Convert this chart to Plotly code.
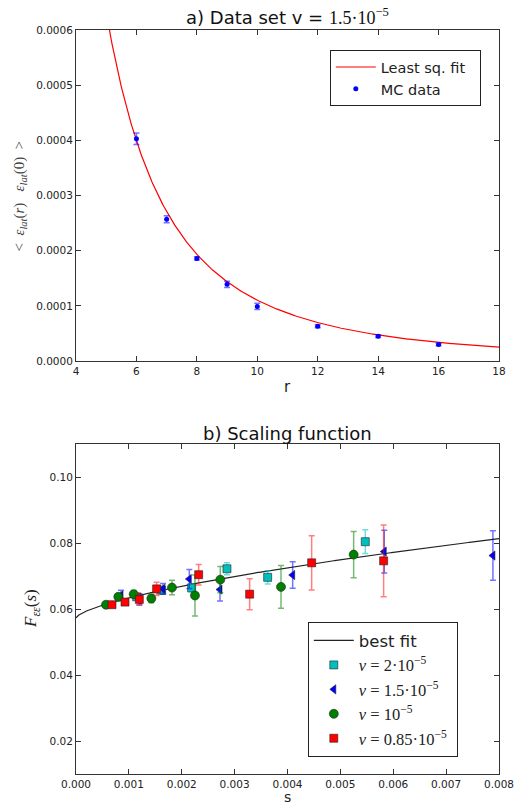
import numpy as np
import plotly.graph_objects as go

# ---------------- Panel a data ----------------
r_vals = [6, 7, 8, 9, 10, 12, 14, 16]
corr_vals = [0.000403, 0.000257, 0.000186, 0.000139, 0.000099, 0.000063, 0.000045, 0.000030]
corr_err = [0.0000105, 0.0000064, 0.0000028, 0.0000057, 0.0000055, 0.0000027, 0.0000025, 0.0000022]
# least squares fit  A * r^(-p)
FIT_A = 0.0365
FIT_P = 2.52

# ---------------- Panel b data ----------------
s_v2 = [0.001147, 0.00162, 0.002187, 0.002855, 0.003625, 0.005471]
F_v2 = [0.0637, 0.0657, 0.0664, 0.0722, 0.0696, 0.0804]
e_v2 = [0.0008, 0.0011, 0.0012, 0.0018, 0.0020, 0.0036]

s_v15 = [0.000851, 0.001198, 0.001646, 0.002143, 0.002723, 0.004098, 0.00583, 0.007885]
F_v15 = [0.0641, 0.0629, 0.0661, 0.0691, 0.0659, 0.0703, 0.0774, 0.0762]
e_v15 = [0.0016, 0.0017, 0.0016, 0.0029, 0.0035, 0.0040, 0.0065, 0.0075]

s_v1 = [0.000567, 0.0008, 0.001091, 0.001425, 0.001815, 0.00225, 0.002729, 0.003877, 0.005251]
F_v1 = [0.0613, 0.0637, 0.0645, 0.0632, 0.0665, 0.0641, 0.0689, 0.0667, 0.0765]
e_v1 = [0.0005, 0.0008, 0.0011, 0.0013, 0.0022, 0.0062, 0.0040, 0.0065, 0.0070]

s_v085 = [0.000681, 0.000927, 0.001198, 0.001525, 0.00232, 0.003284, 0.004457, 0.005818]
F_v085 = [0.0613, 0.0621, 0.0629, 0.0661, 0.0704, 0.0645, 0.0740, 0.0746]
e_v085 = [0.0005, 0.0007, 0.0017, 0.0020, 0.0031, 0.0047, 0.0082, 0.0109]

# best fit  a + b * s^c
BF_A = 0.0573
BF_B = 0.5815
BF_C = 0.66

s_ticks = [0.000, 0.001, 0.002, 0.003, 0.004, 0.005, 0.006, 0.007, 0.008]
s_tick_labels = ["0.000", "0.001", "0.002", "0.003", "0.004", "0.005", "0.006", "0.007", "0.008"]

# ---------------- build figure ----------------
fig = go.Figure()

r_fit = np.linspace(4.9, 18, 400)
fig.add_trace(go.Scatter(x=r_fit, y=FIT_A * r_fit ** (-FIT_P), mode="lines",
                         line=dict(color="#ff0000", width=1.2), name="Least sq. fit&nbsp;&nbsp;",
                         xaxis="x", yaxis="y", legend="legend"))
fig.add_trace(go.Scatter(x=r_vals, y=corr_vals, mode="markers",
                         marker=dict(color="#0000ff", size=5),
                         error_y=dict(type="data", array=corr_err, color="rgba(0,0,255,0.55)",
                                      thickness=1.5, width=3),
                         name="MC data", xaxis="x", yaxis="y", legend="legend"))

s_fit = np.linspace(0, 0.008, 500)
fig.add_trace(go.Scatter(x=s_fit, y=BF_A + BF_B * s_fit ** BF_C, mode="lines",
                         line=dict(color="#222222", width=1.2), name="best fit",
                         xaxis="x2", yaxis="y2", legend="legend2"))

serif = "Liberation Serif"
series = [
    (s_v2, F_v2, e_v2, "#00bfbf", "rgba(0,191,191,0.55)", "square", 8,
     "<span style='font-family:Liberation Serif'><i>v</i> = 2·10<sup>−5</sup></span>"),
    (s_v15, F_v15, e_v15, "#0000ff", "rgba(0,0,255,0.55)", "triangle-left", 8,
     "<span style='font-family:Liberation Serif'><i>v</i> = 1.5·10<sup>−5</sup></span>"),
    (s_v1, F_v1, e_v1, "#008000", "rgba(0,128,0,0.55)", "circle", 9,
     "<span style='font-family:Liberation Serif'><i>v</i> = 10<sup>−5</sup></span>"),
    (s_v085, F_v085, e_v085, "#ff0000", "rgba(255,0,0,0.5)", "square", 8,
     "<span style='font-family:Liberation Serif'><i>v</i> = 0.85·10<sup>−5</sup>&nbsp;</span>"),
]
for sx, fy, ey, col, ecol, sym, size, nm in series:
    fig.add_trace(go.Scatter(x=sx, y=fy, mode="markers",
                             marker=dict(color=col, symbol=sym, size=size,
                                         line=dict(color="#222222", width=0.6)),
                             error_y=dict(type="data", array=ey, color=ecol,
                                          thickness=1.5, width=3),
                             name=nm, xaxis="x2", yaxis="y2", legend="legend2"))

axis_common = dict(showline=True, linecolor="#333333", linewidth=1, mirror="ticks",
                   ticks="inside", ticklen=5, tickcolor="#333333", showgrid=False,
                   zeroline=False, automargin=False, ticklabeloverflow="allow",
                   tickfont=dict(family="DejaVu Sans", size=10.5, color="#222222"))

def ann(text, x, y, size, family="DejaVu Sans", angle=0, color="#111", yanchor="middle"):
    return dict(text=text, xref="paper", yref="paper", x=x, y=y, xanchor="center",
                yanchor=yanchor, showarrow=False, textangle=angle, borderpad=0,
                font=dict(family=family, size=size, color=color))

fig.update_layout(
    width=514, height=806,
    margin=dict(l=76, r=15, t=30, b=32),
    plot_bgcolor="white", paper_bgcolor="white",
    showlegend=True,
    xaxis=dict(domain=[0, 1], anchor="y", range=[4, 18], dtick=2, **axis_common),
    yaxis=dict(domain=[0.5551, 1], anchor="x", range=[0, 0.0006], dtick=0.0001,
               tickformat=".4f", **axis_common),
    xaxis2=dict(domain=[0, 1], anchor="y2", range=[0, 0.008], tickmode="array",
                tickvals=s_ticks, ticktext=s_tick_labels, **axis_common),
    yaxis2=dict(domain=[0, 0.4435], anchor="x2", range=[0.01, 0.11], dtick=0.02,
                tickformat=".2f", tick0=0.0, **axis_common),
    legend=dict(x=0.600, y=0.973, xanchor="left", yanchor="top",
                bordercolor="#222", borderwidth=1, bgcolor="white",
                font=dict(family="DejaVu Sans", size=14.5, color="#222"),
                itemwidth=40),
    legend2=dict(x=0.548, y=0.204, xanchor="left", yanchor="top",
                 bordercolor="#222", borderwidth=1, bgcolor="white",
                 font=dict(family="DejaVu Sans", size=16.5, color="#222"),
                 itemwidth=40),
    annotations=[
        ann("a) Data set v = <span style='font-family:Liberation Serif'>1.5·10<sup>−5</sup></span>",
            0.5, 1.0188, 18),
        ann("b) Scaling function", 0.5, 0.4583, 18),
        ann("r", 0.5, 0.5206, 15, color="#222"),
        ann("s", 0.5, -0.0425, 14, color="#222", yanchor="bottom"),
        ann("<  <i>ε<sub>lat</sub></i>(<i>r</i>)   <i>ε<sub>lat</sub></i>(0)  >",
            -0.1324, 0.7776, 15, family=serif, angle=-90, color="#444"),
        ann("<i>F<sub>εε</sub></i>(<i>s</i>)", -0.104, 0.2218, 17, family=serif, angle=-90,
            color="#222"),
    ],
)

fig.write_html("out.html", config={"displayModeBar": False},
               post_script="document.body.style.margin='0';document.body.style.padding='0';")
